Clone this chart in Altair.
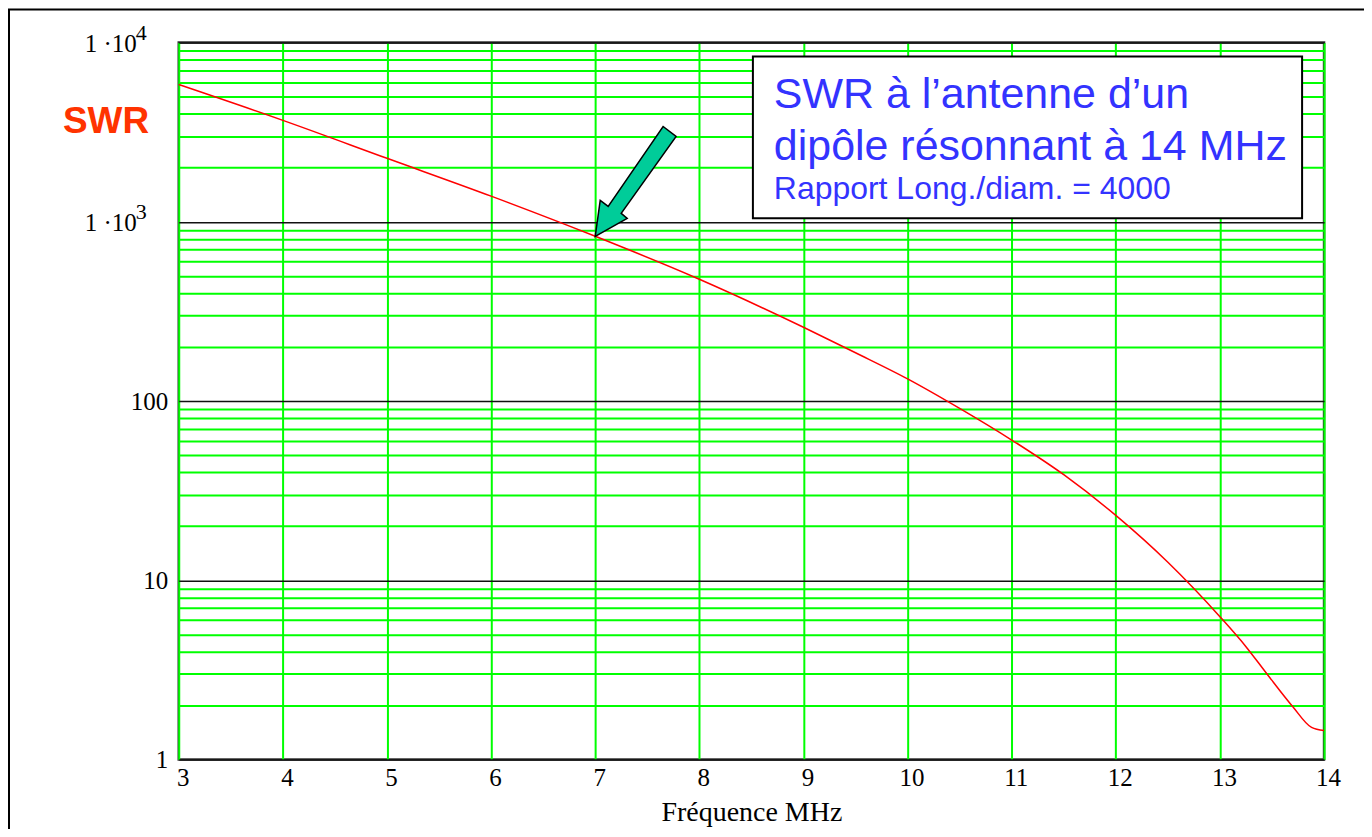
import altair as alt
import pandas as pd

# ---- data ----
freq_mhz = [3, 4, 5, 6, 7, 8, 9, 9.5, 10, 10.5, 11, 11.5, 12, 12.5, 13, 13.25, 13.45, 13.7, 13.88, 14]
swr = [5830, 3680, 2260, 1390, 830, 478, 258, 186, 133, 91, 60.6, 38.8, 23.0, 12.6, 6.26, 4.26, 3.01, 1.97, 1.51, 1.45]

x_ticks = list(range(3, 15))
y_decades = [1, 10, 100, 1000, 10000]
y_plain_labels = {1: "1", 10: "10", 100: "100"}          # drawn by the axis
y_power_labels = [(1000, "1  ·10", "3"), (10000, "1  ·10", "4")]  # mantissa + exponent
y_minor = [k * d for d in [1, 10, 100, 1000] for k in range(2, 10)]

y_label_text = "SWR"
x_title = "Fréquence MHz"
box_lines = ["SWR à l’antenne d’un", "dipôle résonnant à 14 MHz", "Rapport Long./diam. = 4000"]
arrow_freq = 7

df = pd.DataFrame({"f": freq_mhz, "swr": swr})
pow_df = pd.DataFrame({
    "v": [p[0] for p in y_power_labels],
    "base": [p[1] for p in y_power_labels],
    "exp": [p[2] for p in y_power_labels],
})

W, H = 1147, 718
PAD_L, PAD_T = 171, 34

GREEN = "#00ff00"
SERIF = "Liberation Serif"
SANS = "Liberation Sans"
decade_test = "indexof([" + ",".join(str(v) for v in y_decades) + "], datum.value) >= 0"
label_expr = " : ".join(f"datum.value == {v} ? '{t}'" for v, t in y_plain_labels.items()) + " : ''"

x_enc = alt.X(
    "f:Q",
    scale=alt.Scale(domain=[3, 14], nice=False, zero=False),
    axis=alt.Axis(
        values=x_ticks, format="d", grid=True, gridColor=GREEN, gridWidth=2, ticks=False,
        domain=False, labelFlush=False, labelOffset=4, labelFont=SERIF, labelFontSize=25,
        labelColor="black", labelPadding=6, title=x_title, titleFont=SERIF,
        titleFontSize=28, titleFontWeight="normal", titleColor="black", titlePadding=8,
    ),
)
y_scale = alt.Scale(type="log", domain=[1, 10000], nice=False)
y_enc = alt.Y(
    "swr:Q",
    scale=y_scale,
    axis=alt.Axis(
        values=sorted(y_decades + y_minor), labelExpr=label_expr, labelOverlap=False,
        grid=True,
        gridColor={"condition": {"test": decade_test, "value": "#111111"}, "value": GREEN},
        gridWidth={"condition": {"test": decade_test, "value": 1.5}, "value": 2},
        ticks=False, domain=False, labelFont=SERIF, labelFontSize=25,
        labelColor="black", labelPadding=11, title=None,
    ),
)

base = alt.Chart(df)
curve = base.mark_line(color="#ff0000", strokeWidth=1.5, interpolate="monotone").encode(x=x_enc, y=y_enc)

arrow_path = ("M0,0 L0.091,-0.655 L0.236,-0.545 L1.236,-2 L1.473,-1.818 "
              "L0.473,-0.418 L0.582,-0.327 Z")
arrow = base.transform_filter(f"datum.f == {arrow_freq}").mark_point(
    shape=arrow_path, size=12100, filled=True, fill="#00cc99", stroke="black",
    strokeWidth=1.5, opacity=1,
).encode(x="f:Q", y="swr:Q")

pow_base = alt.Chart(pow_df).mark_text(
    align="right", baseline="middle", font=SERIF, fontSize=25, color="black", dy=1,
).encode(x=alt.value(-42), y=alt.Y("v:Q", scale=y_scale), text="base:N")
pow_exp = alt.Chart(pow_df).mark_text(
    align="left", baseline="middle", font=SERIF, fontSize=22, color="black", dy=-10,
).encode(x=alt.value(-43), y=alt.Y("v:Q", scale=y_scale), text="exp:N")

one = pd.DataFrame({"a": [1]})
box = alt.Chart(one).mark_rect(fill="white", stroke="black", strokeWidth=2).encode(
    x=alt.value(575), x2=alt.value(1125), y=alt.value(14), y2=alt.value(176)
)

text_layers = []
for line, yy, fs in zip(box_lines, [66, 118, 157], [43, 43, 32]):
    text_layers.append(
        alt.Chart(pd.DataFrame({"t": [line]})).mark_text(
            align="left", baseline="alphabetic", font=SANS, fontSize=fs, color="#3333ff",
        ).encode(x=alt.value(596), y=alt.value(yy), text="t:N")
    )

swr_label = alt.Chart(pd.DataFrame({"t": [y_label_text]})).mark_text(
    align="left", baseline="alphabetic", font=SANS, fontSize=37,
    fontWeight="bold", color="#ff3300",
).encode(x=alt.value(-116), y=alt.value(91), text="t:N")

frame = alt.Chart(one).mark_rect(filled=False, stroke="black", strokeWidth=2).encode(
    x=alt.value(-PAD_L + 1), y=alt.value(-PAD_T + 1), x2=alt.value(W + 300), y2=alt.value(H + 300)
)

chart = alt.layer(curve, arrow, pow_base, pow_exp, box, *text_layers, swr_label, frame).properties(
    width=W, height=H,
    padding={"left": PAD_L, "top": PAD_T, "right": 40, "bottom": 69},
    autosize=alt.AutoSizeParams(type="none"),
    background="white",
).configure_view(stroke="#333333", strokeWidth=2.5)

chart.save("out.html", embed_options={"renderer": "svg", "actions": False})
